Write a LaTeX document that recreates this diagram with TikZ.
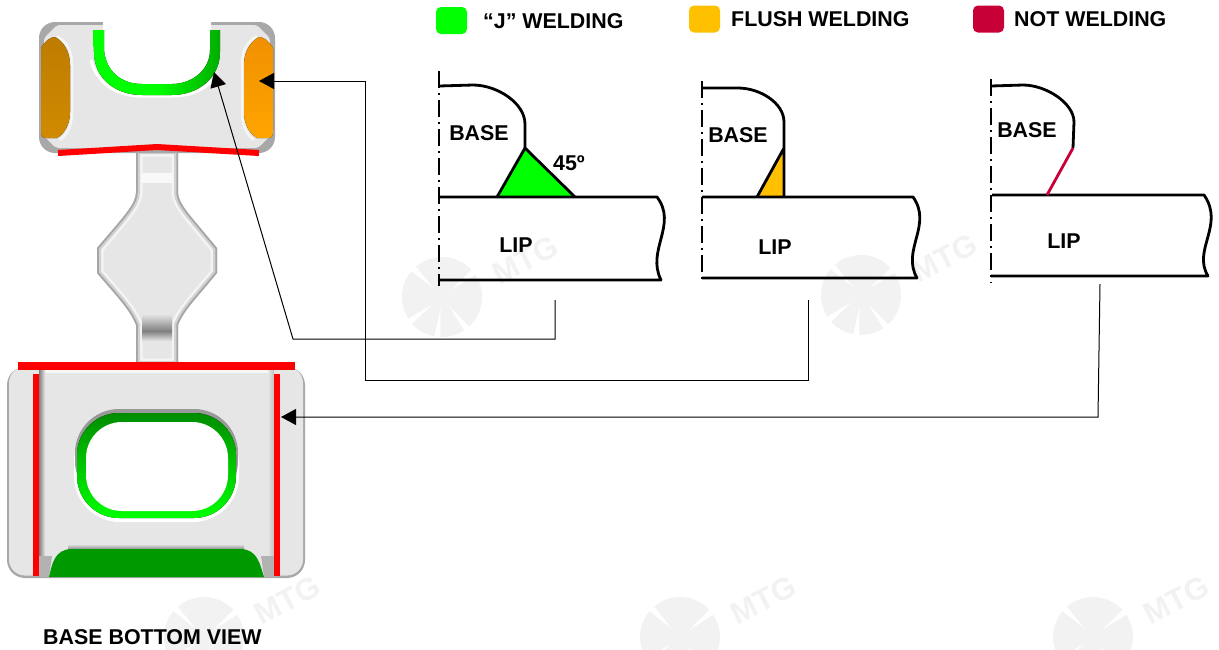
\documentclass[tikz,border=0pt]{standalone}
\usepackage{fontspec}
\setmainfont{Liberation Sans}
\usetikzlibrary{arrows.meta}
\definecolor{bodygray}{HTML}{E6E6E6}
\definecolor{edgegray}{HTML}{A8A8A8}
\definecolor{jgreen}{HTML}{00FF00}
\definecolor{deepgreen}{HTML}{009900}
\definecolor{flushamber}{HTML}{FFC000}
\definecolor{notred}{HTML}{C80038}
\definecolor{markgray}{HTML}{F2F2F2}
\definecolor{dimorangeA}{HTML}{BE7C00}
\definecolor{dimorangeB}{HTML}{D08A00}
\definecolor{brightorangeA}{HTML}{F09000}
\definecolor{brightorangeB}{HTML}{FFA500}
\tikzset{
    label/.style={font=\bfseries\fontsize{21.4}{21.4}\selectfont, inner sep=0pt},
    swatch/.style={rounded corners=5pt, minimum width=31pt, minimum height=27pt, inner sep=0pt},
    outline/.style={line width=2.8pt, line join=round},
    centerline/.style={line width=1.6pt, dash pattern=on 17pt off 5pt on 2pt off 5pt},
    leader/.style={line width=1pt, -{Triangle[length=15pt,width=16pt]}},
    redline/.style={red, line width=6pt},
    watermark/.style={markgray, font=\bfseries\fontsize{31}{31}\selectfont, rotate=27, inner sep=0pt},
}
\newcommand{\neckpath}{(136,193) .. controls (135,205) and (125,215) .. (97,248) -- (97,273)
    .. controls (120,300) and (130,310) .. (136,325) -- (136,365) -- (178,365) -- (178,325)
    .. controls (184,310) and (195,300) .. (217,273) -- (217,248)
    .. controls (190,215) and (179,205) .. (178,193) -- (178,150) -- (136,150) -- cycle}
\begin{document}
\begin{tikzpicture}[x=1pt, y=-1pt]
        \useasboundingbox (0,0) rectangle (1219,649);
        % watermarks
        \foreach \i/\x/\y in {a/442/297, b/861/295, c/204/637, d/680/637, e/1093/637} {
            \fill[markgray] (\x,\y) circle [radius=40pt];
            \foreach \r in {-143,-97,-52,38,135} {
                \fill[white] (\x,\y) ++(\r:12pt) -- ++(\r-6:32pt) -- ++(\r+90:7pt) -- cycle;
            }
            \node [watermark] (mark\i) at (\x+83,\y-37) {MTG};
        }
        % top part
        \fill[bodygray] \neckpath;
        \begin{scope}
            \clip \neckpath;
            \draw[white!55!bodygray, line width=13pt] \neckpath;
            \draw[gray!35!white, line width=8pt] \neckpath;
            \draw[gray!70!white, line width=3.5pt] \neckpath;
        \end{scope}
        \fill[white!70!bodygray] (141,173) rectangle (173,183);
        \fill[top color=bodygray, bottom color=gray] (142,314) rectangle (172,331);
        \fill[top color=gray, bottom color=bodygray] (142,331) rectangle (172,341);
        \fill[edgegray, rounded corners=16pt] (39,22) rectangle (275,153);
        \fill[bodygray, rounded corners=3pt] (57,25) -- (257,25) -- (270,38) -- (270,136) -- (258,148)
            -- (56,148) -- (44,136) -- (44,38) -- cycle;
        \fill[white] (103,20) -- (103,50) .. controls (103,72) and (122,84) .. (142,84) -- (172,84)
            .. controls (192,84) and (211,72) .. (211,50) -- (211,20) -- cycle;
        \draw[white, line width=3pt] (91,60) .. controls (96,82) and (115,96) .. (142,96) -- (172,96)
            .. controls (190,96) and (204,90) .. (212,80);
        \fill[left color=jgreen, right color=green!68!black, middle color=jgreen]
            (93,30) -- (104,30) -- (104,50) .. controls (106,72) and (122,84) .. (142,84) -- (172,84)
            .. controls (192,84) and (210,70) .. (210,50) -- (210,30) -- (220,30) -- (220,52)
            .. controls (220,78) and (198,95) .. (172,95) -- (142,95) .. controls (115,95) and (94,78) .. (94,52) -- cycle;
        \draw[white!60!bodygray, line width=2.5pt] (57,36) .. controls (68,42) and (72,52) .. (72,65) -- (72,112) .. controls (72,125) and (68,134) .. (60,140);
        \draw[white!60!bodygray, line width=2.5pt] (257,36) .. controls (246,42) and (242,52) .. (242,65) -- (242,112) .. controls (242,125) and (246,134) .. (254,140);
        \fill[top color=dimorangeA, bottom color=dimorangeB]
            (41,48) .. controls (44,42) and (50,37) .. (55,37) .. controls (64,42) and (70,52) .. (70,65)
            -- (70,112) .. controls (70,125) and (64,134) .. (57,138) -- (46,138) .. controls (42,138) and (41,136) .. (41,130) -- cycle;
        \fill[top color=brightorangeA, bottom color=brightorangeB]
            (273,48) .. controls (270,42) and (264,37) .. (259,37) .. controls (250,42) and (244,52) .. (244,65)
            -- (244,112) .. controls (244,125) and (250,134) .. (257,138) -- (268,138) .. controls (272,138) and (273,136) .. (273,130) -- cycle;
        \draw[redline, line join=round] (58,153) -- (157,147) -- (259,153);
        % bottom part
        \fill[edgegray, rounded corners=18pt] (7,367) rectangle (305,578);
        \fill[bodygray, rounded corners=16pt] (9,367) rectangle (303,575.5);
        \fill[white!65!bodygray] (43,370) rectangle (270,373);
        \fill[left color=gray, right color=bodygray] (39,370) rectangle (45,576);
        \fill[left color=bodygray, right color=gray!50!white] (268,370) rectangle (274,576);
        \fill[gray!60!white] (39,556) -- (52,556) -- (49,577) -- (39,577) -- cycle;
        \fill[gray!60!white] (274,556) -- (261,556) -- (264,577) -- (274,577) -- cycle;
        \fill[top color=bodygray, bottom color=gray] (68,544) rectangle (244,550);
        \fill[white, rounded corners=46pt] (74,416) rectangle (239,522);
        \fill[gray!80!white, rounded corners=44pt] (75,409) rectangle (238,505);
        \fill[top color=green!55!black, bottom color=jgreen, rounded corners=42pt] (77,413) rectangle (236,518);
        \fill[white, rounded corners=36pt] (86,422) rectangle (228,511);
        \fill[deepgreen]
            (49,577) .. controls (52,565) and (54,549) .. (72,549) -- (240,549)
            .. controls (258,549) and (260,565) .. (264,577) -- cycle;
        \fill[red] (33,374) rectangle (39,576);
        \fill[red] (274,374) rectangle (280,576);
        \fill[red] (18,362) rectangle (295,370);
        % details
        \fill[jgreen] (525,148) -- (497,197) -- (575,197) -- cycle;
        \fill[flushamber] (784,148) -- (757,197) -- (784,197) -- cycle;
        \draw[outline] (439,86) -- (473,85) .. controls (497,85) and (525,103) .. (525,124) -- (525,148);
        \draw[outline] (497,197) -- (525,148) -- (575,197);
        \draw[outline] (440,197) -- (657,197) .. controls (678,225) and (646,250) .. (661,280) -- (439,280);
        \draw[outline] (702,88) -- (738,88) .. controls (760,88) and (784,103) .. (784,122) -- (784,197) (757,197) -- (784,148);
        \draw[outline] (702,197) -- (913,197) .. controls (933,225) and (901,250) .. (917,278) -- (702,278);
        \draw[outline] (991,86) -- (1023,85) .. controls (1046,85) and (1074,103) .. (1074,122) -- (1073,148);
        \draw[outline] (992,195) -- (1204,195) .. controls (1225,225) and (1192,250) .. (1208,276) -- (991,276);
        \draw[notred, line width=2.8pt] (1073,148) -- (1047,195);
        \draw[centerline] (439,71) -- (439,286);
        \draw[centerline] (702,81) -- (702,283);
        \draw[centerline] (991,79) -- (991,283);
        % labels
        \begin{scope}[every node/.style={label}]
            \node (baseA) at (479,133) {BASE};
            \node (lipA) at (516,245) {LIP};
            \node (angle) at (569,163) {45º};
            \node (baseB) at (738,135) {BASE};
            \node (lipB) at (775,247) {LIP};
            \node (baseC) at (1027,130) {BASE};
            \node (lipC) at (1064,241) {LIP};
            \node [anchor=west] (view) at (43,637) {BASE BOTTOM VIEW};
            \node [anchor=west] (textJ) at (483,21) {“J” WELDING};
            \node [anchor=west] (textFlush) at (731,19) {FLUSH WELDING};
            \node [anchor=west] (textNot) at (1014,19) {NOT WELDING};
        \end{scope}
        \node [swatch, fill=jgreen] (keyJ) at (451.5,20.5) {};
        \node [swatch, fill=flushamber] (keyFlush) at (704.5,19) {};
        \node [swatch, fill=notred] (keyNot) at (988.5,19) {};
        % leaders
        \coordinate (fromJ) at (555,300);
        \coordinate (bendJa) at (555,339);
        \coordinate (bendJb) at (293,339);
        \coordinate (toJ) at (214,72);
        \coordinate (fromFlush) at (808,300);
        \coordinate (bendFa) at (808,380);
        \coordinate (bendFb) at (365,380);
        \coordinate (bendFc) at (365,81);
        \coordinate (toFlush) at (259,81);
        \coordinate (fromNot) at (1100,284);
        \coordinate (bendNot) at (1098,417);
        \coordinate (toNot) at (281,417);
        \draw[leader] (fromJ) -- (bendJa) -- (bendJb) -- (toJ);
        \draw[leader] (fromFlush) -- (bendFa) -- (bendFb) -- (bendFc) -- (toFlush);
        \draw[leader] (fromNot) -- (bendNot) -- (toNot);
    \end{tikzpicture}
\end{document}
